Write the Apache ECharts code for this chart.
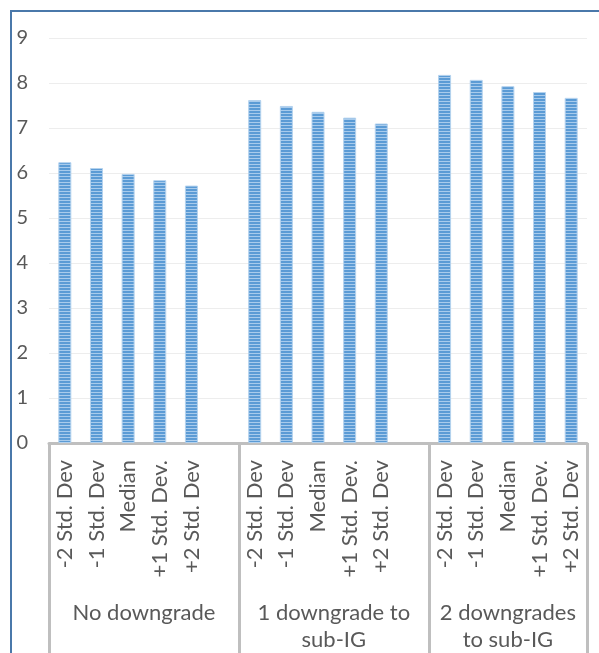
<!DOCTYPE html>
<html>
<head>
<meta charset="utf-8">
<script src="https://cdn.jsdelivr.net/npm/echarts@6/dist/echarts.min.js"></script>
<style>
  html, body { margin: 0; padding: 0; background: #fff; overflow: hidden; }
  #chart { width: 599px; height: 653px; }
</style>
</head>
<body>
<div id="chart"></div>
<script>
// Scenario labels inside each group (blank slot separates the groups)
const scenarios = ['-2 Std. Dev', '-1 Std. Dev', 'Median', '+1 Std. Dev.', '+2 Std. Dev'];
const groupNames = ['No downgrade', '1 downgrade to\nsub-IG', '2 downgrades\nto sub-IG'];

// Values per group
const noDowngrade = [6.24, 6.11, 5.98, 5.84, 5.72];
const oneDowngrade = [7.62, 7.49, 7.36, 7.23, 7.10];
const twoDowngrades = [8.18, 8.07, 7.93, 7.80, 7.67];

const yTicks = [0, 1, 2, 3, 4, 5, 6, 7, 8, 9];

// Category slots: five scenarios per group with an empty slot between groups
const categories = [...scenarios, '', ...scenarios, '', ...scenarios];
const values = [...noDowngrade, null, ...oneDowngrade, null, ...twoDowngrades];

// Group boundaries and centres, in slot units
const groupBounds = [0, 6, 12, 17];
const groupCenters = [3, 9, 14.5];

// Horizontal striped fill for the bars
const stripe = document.createElement('canvas');
stripe.width = 4; stripe.height = 3;
const sctx = stripe.getContext('2d');
sctx.fillStyle = '#5B9BD5';
sctx.fillRect(0, 0, 4, 2);
sctx.fillStyle = '#A8CBEC';
sctx.fillRect(0, 2, 4, 1);

const chart = echarts.init(document.getElementById('chart'), null, { renderer: 'canvas' });
const font = 'Lato, "Open Sans", sans-serif';

chart.setOption({
  animation: false,
  backgroundColor: '#ffffff',
  // Outer chart frame: top and left edges only
  graphic: [
    {
      type: 'polyline',
      silent: true,
      shape: { points: [[11, 660], [11, 11], [610, 11]] },
      style: { stroke: '#4A78AA', lineWidth: 2, fill: null }
    }
  ],
  grid: { left: 49, right: 12, top: 38, bottom: 210, containLabel: false },
  xAxis: [
    {
      type: 'category',
      data: categories,
      position: 'bottom',
      axisLine: { lineStyle: { color: '#BFBFBF', width: 3 } },
      axisTick: { show: false },
      axisLabel: {
        interval: 0,
        rotate: 90,
        margin: 17,
        fontSize: 22,
        fontFamily: font,
        color: '#595959'
      },
      splitLine: { show: false }
    },
    {
      type: 'value',
      min: 0,
      max: 17,
      position: 'bottom',
      axisLine: { show: false },
      axisTick: {
        show: true,
        customValues: groupBounds,
        length: 212,
        lineStyle: { color: '#BFBFBF', width: 3 }
      },
      axisLabel: {
        show: true,
        customValues: groupCenters,
        margin: 156,
        fontSize: 22,
        fontFamily: font,
        color: '#595959',
        verticalAlign: 'top',
        lineHeight: 27,
        formatter: function (v) {
          const i = groupCenters.indexOf(v);
          return i >= 0 ? groupNames[i] : '';
        }
      },
      splitLine: { show: false }
    }
  ],
  yAxis: {
    type: 'value',
    min: yTicks[0],
    max: yTicks[yTicks.length - 1],
    interval: 1,
    axisLine: { show: false },
    axisTick: { show: false },
    axisLabel: {
      margin: 21,
      fontSize: 20,
      fontFamily: font,
      color: '#595959',
      align: 'right'
    },
    splitLine: { lineStyle: { color: '#EDEDED', width: 1 } }
  },
  series: [
    {
      type: 'bar',
      xAxisIndex: 0,
      data: values,
      barWidth: 13,
      itemStyle: {
        color: { image: stripe, repeat: 'repeat' },
        borderColor: '#B4D2EE',
        borderWidth: 1
      }
    }
  ]
});
</script>
</body>
</html>
